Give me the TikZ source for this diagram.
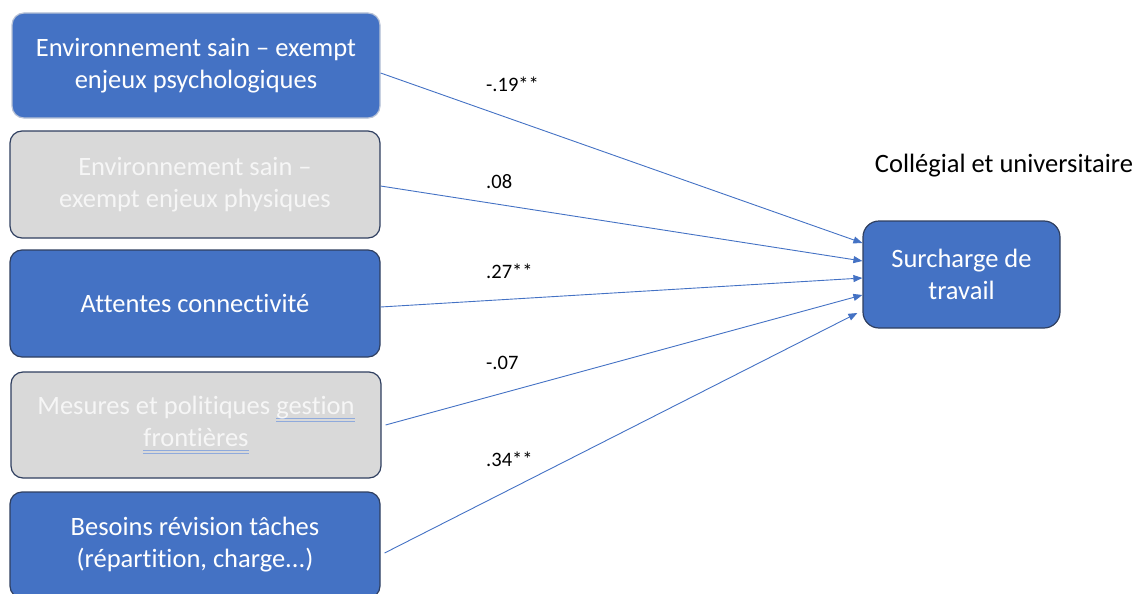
\documentclass[tikz,border=0pt]{standalone}
\usepackage{fontspec}
\setmainfont{Carlito}[RawFeature={-liga;-clig;-calt;-dlig}]
\usetikzlibrary{arrows.meta}
\definecolor{obl}{HTML}{4472C4}
\definecolor{ogr}{HTML}{D9D9D9}
\definecolor{odk}{HTML}{2F3F60}
\definecolor{olt}{HTML}{B8C2D6}
\definecolor{ulb}{HTML}{8FAADC}
\definecolor{gtx}{HTML}{F6F6F6}
\newcommand\dulx[1]{\setbox0\hbox{#1}\rlap{\color{ulb}\rule[-4.5pt]{\wd0}{1.1pt}}\rlap{\color{ulb}\rule[-7pt]{\wd0}{1.1pt}}\box0}
\begin{document}
\begin{tikzpicture}[x=1pt,y=-1pt,
  base/.style={rectangle,rounded corners=12pt,line width=1.2pt,align=center,inner sep=0pt,font=\fontsize{26.5}{32}\selectfont},
  bluebox/.style={base,fill=obl,draw=odk,text=white},
  graybox/.style={base,fill=ogr,draw=odk,text=gtx},
  coef/.style={anchor=base west,font=\fontsize{20.5}{24}\selectfont,inner sep=0pt},
  link/.style={draw=obl,line width=0.9pt,-{Triangle[length=9pt,width=7pt]}}]
\useasboundingbox (0,0) rectangle (1141,594);
\node[bluebox,draw=olt,minimum width=368pt,minimum height=105pt] (b1) at (196,65.5) {Environnement sain – exempt\\enjeux psychologiques};
\node[graybox,minimum width=370pt,minimum height=107pt] (b2) at (195,184.5) {Environnement sain –\\exempt enjeux physiques};
\node[bluebox,minimum width=370pt,minimum height=107pt] (b3) at (195,303.5) {Attentes connectivité};
\node[graybox,minimum width=370pt,minimum height=106pt] (b4) at (196,425) {Mesures et politiques \dulx{gestion}\\\dulx{frontières}};
\node[bluebox,minimum width=370pt,minimum height=106pt] (b5) at (195,545) {Besoins révision tâches\\(répartition, charge...)};
\node[bluebox,rounded corners=16pt,minimum width=197pt,minimum height=107pt] (t) at (961.5,274.5) {Surcharge de\\travail};
\node[anchor=base,inner sep=0pt,font=\fontsize{26.5}{32}\selectfont] (title) at (1004,172) {Collégial et universitaire};
\draw[link] ([yshift=-7.5pt]b1.east) -- ([yshift=31.5pt]t.west);
\draw[link] ([yshift=-1.5pt]b2.east) -- ([yshift=13.5pt]t.west);
\draw[link] ([yshift=-3.5pt]b3.east) -- ([yshift=-3.5pt]t.west);
\draw[link] ([xshift=4pt]b4.east) -- ([yshift=-20.5pt]t.west);
\draw[link] ([xshift=4pt,yshift=-8pt]b5.east) -- ([xshift=-5pt,yshift=-38.5pt]t.west);
\node[coef] (c1) at (486,92) {-.19**};
\node[coef] (c2) at (486,188) {.08};
\node[coef] (c3) at (486,278) {.27**};
\node[coef] (c4) at (486,369) {-.07};
\node[coef] (c5) at (486,466) {.34**};
\end{tikzpicture}
\end{document}
